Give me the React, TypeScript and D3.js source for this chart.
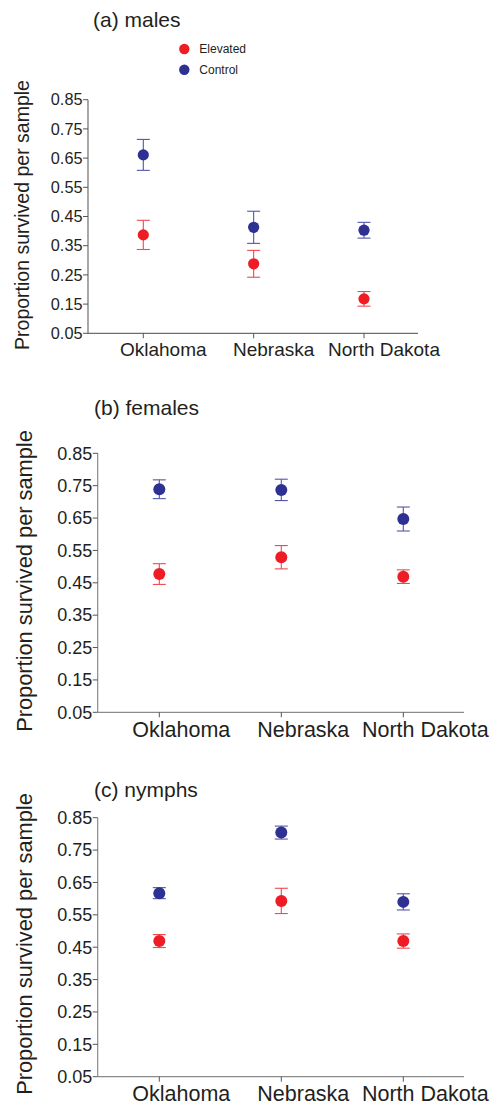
import React from "react";
import * as d3 from "d3";

const categories = ["Oklahoma", "Nebraska", "North Dakota"];
const seriesNames = ["Elevated", "Control"];
const tickValues = [0.05, 0.15, 0.25, 0.35, 0.45, 0.55, 0.65, 0.75, 0.85];
const panelTitles = ["(a) males", "(b) females", "(c) nymphs"];

// means and standard errors per panel, in category order
const malesElevated = [0.387, 0.288, 0.168];
const malesElevatedErr = [0.05, 0.046, 0.025];
const malesControl = [0.661, 0.413, 0.403];
const malesControlErr = [0.053, 0.055, 0.027];

const femalesElevated = [0.477, 0.529, 0.469];
const femalesElevatedErr = [0.032, 0.036, 0.021];
const femalesControl = [0.739, 0.737, 0.647];
const femalesControlErr = [0.029, 0.033, 0.037];

const nymphsElevated = [0.469, 0.593, 0.469];
const nymphsElevatedErr = [0.02, 0.039, 0.022];
const nymphsControl = [0.617, 0.804, 0.59];
const nymphsControlErr = [0.017, 0.02, 0.025];

const RED = "#ee1c25";
const BLUE = "#2e3192";
const RED_BAR = "#f0484f";
const BLUE_BAR = "#5356a8";
const FONT = "'Liberation Sans', Arial, sans-serif";

type PanelLayout = {
  axisX: number;
  yTop: number;
  yBottom: number;
  xEnd: number;
  cat0: number;
  cat2: number;
  titleX: number;
  titleY: number;
  tickFont: number;
  catFont: number;
  catBaseline: number;
  catDx: number;
  yTitleFont: number;
  yTitleX: number;
  yTitleCY: number;
  r: number;
  axisColor: string;
};

const layouts: PanelLayout[] = [
  {
    axisX: 88, yTop: 99.7, yBottom: 333.3, xEnd: 418, cat0: 143.3, cat2: 364,
    titleX: 93, titleY: 27, tickFont: 16.3, catFont: 19, catBaseline: 356, catDx: 20,
    yTitleFont: 19.5, yTitleX: 28.5, yTitleCY: 215, r: 5.6, axisColor: "#6d6d6d",
  },
  {
    axisX: 97.7, yTop: 453.3, yBottom: 712.3, xEnd: 464, cat0: 159.3, cat2: 403.3,
    titleX: 94, titleY: 415, tickFont: 18, catFont: 21.5, catBaseline: 736.5, catDx: 22,
    yTitleFont: 21.8, yTitleX: 32, yTitleCY: 581, r: 6, axisColor: "#8a8a8a",
  },
  {
    axisX: 97.7, yTop: 817.7, yBottom: 1076.7, xEnd: 464, cat0: 159.3, cat2: 403.3,
    titleX: 94, titleY: 796.5, tickFont: 18, catFont: 21.5, catBaseline: 1101, catDx: 22,
    yTitleFont: 21.8, yTitleX: 32, yTitleCY: 944, r: 6, axisColor: "#8a8a8a",
  },
];

const panelData = [
  { el: malesElevated, elErr: malesElevatedErr, co: malesControl, coErr: malesControlErr },
  { el: femalesElevated, elErr: femalesElevatedErr, co: femalesControl, coErr: femalesControlErr },
  { el: nymphsElevated, elErr: nymphsElevatedErr, co: nymphsControl, coErr: nymphsControlErr },
];

function Panel({ idx }: { idx: number }) {
  const L = layouts[idx];
  const D = panelData[idx];
  const y = d3.scaleLinear().domain([0.05, 0.85]).range([L.yBottom, L.yTop]);
  const x = d3.scalePoint<string>().domain(categories).range([L.cat0, L.cat2]);
  const cap = 6.5;

  const series = [
    { vals: D.el, errs: D.elErr, fill: RED, bar: RED_BAR },
    { vals: D.co, errs: D.coErr, fill: BLUE, bar: BLUE_BAR },
  ];

  return (
    <g>
      <text x={L.titleX} y={L.titleY} fontSize={21} fontFamily={FONT} fill="#231f20">
        {panelTitles[idx]}
      </text>
      {/* y axis */}
      <line x1={L.axisX} x2={L.axisX} y1={L.yTop} y2={L.yBottom} stroke={L.axisColor} strokeWidth={1.2} />
      {tickValues.map((t) => (
        <g key={t}>
          <line x1={L.axisX - 5} x2={L.axisX} y1={y(t)} y2={y(t)} stroke="#555" strokeWidth={1} />
          <text
            x={L.axisX - 5.5}
            y={y(t)}
            dy="0.35em"
            textAnchor="end"
            fontSize={L.tickFont}
            fontFamily={FONT}
            fill="#231f20"
          >
            {d3.format(".2f")(t)}
          </text>
        </g>
      ))}
      {/* x axis */}
      <line x1={L.axisX} x2={L.xEnd} y1={L.yBottom} y2={L.yBottom} stroke={L.axisColor} strokeWidth={1.2} />
      {categories.map((c) => (
        <g key={c}>
          <line x1={x(c)} x2={x(c)} y1={L.yBottom} y2={L.yBottom + 5} stroke="#555" strokeWidth={1} />
          <text
            x={(x(c) as number) + L.catDx}
            y={L.catBaseline}
            textAnchor="middle"
            fontSize={L.catFont}
            fontFamily={FONT}
            fill="#231f20"
          >
            {c}
          </text>
        </g>
      ))}
      {/* y title */}
      <text
        transform={`translate(${L.yTitleX},${L.yTitleCY}) rotate(-90)`}
        textAnchor="middle"
        fontSize={L.yTitleFont}
        fontFamily={FONT}
        fill="#231f20"
      >
        Proportion survived per sample
      </text>
      {/* points */}
      {series.map((s, si) => (
        <g key={si}>
          {categories.map((c, ci) => {
            const cx = x(c) as number;
            const v = s.vals[ci];
            const e = s.errs[ci];
            return (
              <g key={c}>
                <line x1={cx} x2={cx} y1={y(v + e)} y2={y(v - e)} stroke={s.bar} strokeWidth={1.1} />
                <line x1={cx - cap} x2={cx + cap} y1={y(v + e)} y2={y(v + e)} stroke={s.bar} strokeWidth={1.1} />
                <line x1={cx - cap} x2={cx + cap} y1={y(v - e)} y2={y(v - e)} stroke={s.bar} strokeWidth={1.1} />
                <circle cx={cx} cy={y(v)} r={L.r} fill={s.fill} />
              </g>
            );
          })}
        </g>
      ))}
    </g>
  );
}

export default function App() {
  const legendColors = [RED, BLUE];
  return (
    <svg
      width={500}
      height={1107}
      style={{ position: "absolute", left: 0, top: 0, background: "#fff" }}
    >
      <rect x={0} y={0} width={500} height={1107} fill="#fff" />
      {/* legend */}
      {seriesNames.map((n, i) => (
        <g key={n}>
          <circle cx={184.3} cy={49 + i * 20.7} r={5.2} fill={legendColors[i]} />
          <text x={199.3} y={49 + i * 20.7} dy="0.36em" fontSize={12} fontFamily={FONT} fill="#231f20">
            {n}
          </text>
        </g>
      ))}
      {[0, 1, 2].map((i) => (
        <Panel key={i} idx={i} />
      ))}
    </svg>
  );
}
